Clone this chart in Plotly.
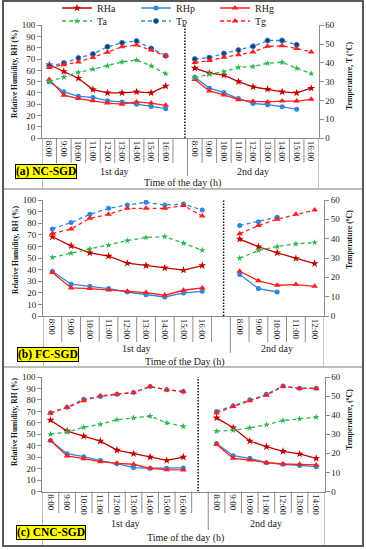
import plotly.graph_objects as go

# ---------------- data ----------------
# Panel (a) NC-SGD
a_day1_hours = ["8:00", "9:00", "10:00", "11:00", "12:00", "13:00", "14:00", "15:00", "16:00"]
a_day2_hours = ["8:00", "9:00", "10:00", "11:00", "12:00", "13:00", "14:00", "15:00", "16:00"]
a_RHa_1 = [65, 59, 53, 43, 40, 40, 41, 40, 46]
a_RHp_1 = [50, 41, 37, 36, 33, 32, 30, 28, 26]
a_RHg_1 = [52, 38, 35, 33, 31, 30, 32, 31, 29]
a_Ta_1 = [30.0, 32.4, 35.0, 36.6, 38.4, 40.5, 41.5, 38.4, 34.2]
a_Tp_1 = [38.4, 39.9, 42.6, 44.7, 48.6, 50.7, 51.6, 47.7, 43.8]
a_Tg_1 = [37.5, 39.0, 40.5, 42.9, 45.6, 48.6, 49.5, 46.8, 43.8]
a_RHa_2 = [62, 57.6, 55.8, 50, 45.4, 43.3, 41, 40, 44.2]
a_RHp_2 = [54, 44.2, 40.3, 35, 30.7, 29.6, 27.8, 25.4]
a_RHg_2 = [52, 41.8, 38.2, 34, 32.5, 32, 32.8, 32.8, 34.3]
a_Ta_2 = [32.1, 34.0, 35.3, 37.6, 38.0, 39.8, 40.3, 37.1, 34.2]
a_Tp_2 = [42.0, 42.8, 45.0, 46.8, 48.8, 51.9, 51.9, 49.6]
a_Tg_2 = [40.2, 41.2, 43.0, 44.3, 45.8, 48.8, 49.1, 47.7, 45.8]

# Panel (b) FC-SGD
b_day1_hours = ["8:00", "9:00", "10:00", "11:00", "12:00", "13:00", "14:00", "15:00", "16:00"]
b_day2_hours = ["8:00", "9:00", "10:00", "11:00", "12:00"]
b_RHa_1 = [68.3, 60.5, 54.5, 51.6, 45.5, 43.5, 41.5, 39.5, 43.5]
b_RHp_1 = [38.6, 27.4, 25.6, 23.6, 20.7, 18.4, 16.4, 19.9, 21.3]
b_RHg_1 = [37.5, 24.2, 23.6, 22.5, 21.3, 20.2, 17.9, 22.2, 24.2]
b_Ta_1 = [30.3, 32.5, 34.7, 36.6, 39.0, 40.6, 41.1, 37.7, 34.0]
b_Tp_1 = [45.0, 48.3, 52.6, 55.7, 57.4, 58.8, 57.4, 57.9, 54.8]
b_Tg_1 = [42.7, 45.0, 50.5, 52.6, 55.7, 55.7, 55.7, 57.1, 51.7]
b_RHa_2 = [66.3, 59.7, 54.5, 49.6, 45.2]
b_RHp_2 = [35.7, 23.6, 20.7]
b_RHg_2 = [38.6, 30.3, 26.5, 27.1, 25.6]
b_Ta_2 = [29.9, 33.9, 35.9, 37.3, 38.0]
b_Tp_2 = [46.8, 48.8, 51.1]
b_Tg_2 = [42.6, 46.8, 50.0, 52.6, 54.8]

# Panel (c) CNC-SGD
c_day1_hours = ["8:00", "9:00", "10:00", "11:00", "12:00", "13:00", "14:00", "15:00", "16:00"]
c_day2_hours = ["8:00", "9:00", "10:00", "11:00", "12:00", "13:00", "14:00"]
c_RHa_1 = [62.3, 52.8, 48.4, 44, 36.2, 33, 30.1, 27.2, 30.1]
c_RHp_1 = [44.6, 33, 30.4, 27, 24.3, 20.9, 20.3, 20.3, 20.6]
c_RHg_1 = [44.6, 31, 28.7, 26, 24.6, 23.8, 20.3, 19.1, 18.8]
c_Ta_1 = [30.0, 31.2, 33.6, 35.2, 37.6, 38.6, 39.5, 36.0, 34.1]
c_Tp_1 = [41.2, 44.1, 48.4, 49.8, 51.0, 51.9, 55.0, 53.3, 52.4]
c_Tg_1 = [41.2, 44.1, 47.6, 50.2, 51.0, 51.9, 55.0, 53.3, 52.4]
c_RHa_2 = [64.3, 55.7, 44.1, 39.1, 35.1, 32.8, 29]
c_RHp_2 = [42, 31.3, 29, 25.2, 23.8, 22.6, 21.7]
c_RHg_2 = [41.2, 29, 27.5, 25.2, 24, 23.8, 23.2]
c_Ta_2 = [31.6, 32.1, 33.3, 35.0, 37.2, 38.1, 39.0]
c_Tp_2 = [41.9, 45.0, 48.1, 50.9, 55.3, 54.1, 54.1]
c_Tg_2 = [41.2, 44.5, 47.6, 50.5, 55.0, 54.0, 54.0]

series_names = ["RHa", "RHp", "RHg", "Ta", "Tp", "Tg"]
panel_labels = ["(a) NC-SGD", "(b) FC-SGD", "(c) CNC-SGD"]
left_titles = ["Relative Humidity, RH (%)"] * 3
right_titles = ["Temperature, T (°C)", "Temperature (<sup>o</sup>C)", "Temperature, (<sup>o</sup>C)"]
x_titles = ["Time of the day (h)", "Time of the Day (h)", "Time of the day (h)"]
day_labels = ["1st day", "2nd day"]

# ---------------- styling / layout ----------------
W, H = 366, 550
FONT = "Liberation Serif"
AX = "#8C8C8C"
DASH = "4px,3px"


def px(v):
    return v / W


def py(v):
    return 1 - v / H


styles = {
    "RHa": dict(color="#C00000", dash="solid", symbol="star", size=6, t=False),
    "RHp": dict(color="#2E86DE", dash="solid", symbol="circle", size=5, t=False),
    "RHg": dict(color="#FF1F1F", dash="solid", symbol="triangle-up", size=6, t=False),
    "Ta": dict(color="#2DB84D", dash=DASH, symbol="star", size=5, t=True),
    "Tp": dict(color="#2E86DE", dash=DASH, symbol="circle", size=5, t=True),
    "Tg": dict(color="#FF1F1F", dash=DASH, symbol="triangle-up", size=6, t=True),
}

panels = [
    dict(d1=a_day1_hours, d2=a_day2_hours,
         s1=[a_RHa_1, a_RHp_1, a_RHg_1, a_Ta_1, a_Tp_1, a_Tg_1],
         s2=[a_RHa_2, a_RHp_2, a_RHg_2, a_Ta_2, a_Tp_2, a_Tg_2],
         xd=(42, 318.5), yb=138, yt=25.3, sep_end=163, grp_end=176, bottom=189,
         day_y=171, xt_y=183, lab_y=171, lab_x=45.5, ltitle_y=74, rtitle_y=76, dot=9.32),
    dict(d1=b_day1_hours, d2=b_day2_hours,
         s1=[b_RHa_1, b_RHp_1, b_RHg_1, b_Ta_1, b_Tp_1, b_Tg_1],
         s2=[b_RHa_2, b_RHp_2, b_RHg_2, b_Ta_2, b_Tp_2, b_Tg_2],
         xd=(43, 324), yb=316, yt=200, sep_end=342, grp_end=353, bottom=367,
         day_y=348, xt_y=362, lab_y=354.5, lab_x=48, ltitle_y=250, rtitle_y=240, dot=9.14),
    dict(d1=c_day1_hours, d2=c_day2_hours,
         s1=[c_RHa_1, c_RHp_1, c_RHg_1, c_Ta_1, c_Tp_1, c_Tg_1],
         s2=[c_RHa_2, c_RHp_2, c_RHg_2, c_Ta_2, c_Tp_2, c_Tg_2],
         xd=(42.2, 324.5), yb=491.5, yt=377, sep_end=513, grp_end=530, bottom=545,
         day_y=523, xt_y=538, lab_y=532.5, lab_x=51.5, ltitle_y=422, rtitle_y=420, dot=8.89),
]

fig = go.Figure()
layout = dict(width=W, height=H, autosize=False,
              margin=dict(l=0, r=0, t=0, b=0, autoexpand=False),
              paper_bgcolor="white", plot_bgcolor="white", showlegend=True)
shapes = []
annotations = []

tickfont = dict(family=FONT, size=9, color="#1A1A1A")

for i, p in enumerate(panels):
    xref = "x" if i == 0 else f"x{i + 1}"
    xname = "xaxis" if i == 0 else f"xaxis{i + 1}"
    yi_rh, yi_t = 2 * i + 1, 2 * i + 2
    yref_rh = "y" if yi_rh == 1 else f"y{yi_rh}"
    yname_rh = "yaxis" if yi_rh == 1 else f"yaxis{yi_rh}"
    yref_t = f"y{yi_t}"
    yname_t = f"yaxis{yi_t}"

    n1, n2 = len(p["d1"]), len(p["d2"])
    pos1 = list(range(n1))
    pos2 = [n1 + 1 + k for k in range(n2)]
    n = n1 + 1 + n2

    for j, name in enumerate(series_names):
        st = styles[name]
        v1, v2 = p["s1"][j], p["s2"][j]
        xs = pos1[:len(v1)] + [None] + pos2[:len(v2)]
        ys = list(v1) + [None] + list(v2)
        marker = dict(symbol=st["symbol"], size=st["size"], color=st["color"], line=dict(width=0))
        if name == "Tp" and i == 0:
            marker = dict(symbol="circle", size=5, color="#1B3A6B", line=dict(width=1, color="#2E86DE"))
        fig.add_trace(go.Scatter(
            x=xs, y=ys, mode="lines+markers", name=name,
            line=dict(color=st["color"], width=1.3, dash=st["dash"]),
            marker=marker, connectgaps=False,
            xaxis=xref, yaxis=(yref_t if st["t"] else yref_rh),
            showlegend=(i == 0), legend=("legend2" if st["t"] else "legend"),
            hoverinfo="skip"))

    layout[xname] = dict(domain=[px(p["xd"][0]), px(p["xd"][1])], anchor=yref_rh,
                         range=[-0.5, n - 0.5], tickmode="array",
                         tickvals=pos1 + pos2, ticktext=p["d1"] + p["d2"],
                         tickangle=90, ticks="", showline=True, linecolor=AX, linewidth=1,
                         showgrid=False, zeroline=False, tickfont=tickfont, fixedrange=True)
    layout[yname_rh] = dict(domain=[py(p["yb"]), py(p["yt"])], anchor=xref, range=[0, 100],
                            tick0=0, dtick=10, ticks="outside", ticklen=4, tickcolor=AX,
                            showline=True, linecolor=AX, linewidth=1, showgrid=False,
                            zeroline=False, tickfont=tickfont, fixedrange=True)
    layout[yname_t] = dict(overlaying=yref_rh, anchor=xref, side="right", range=[0, 60],
                           tick0=0, dtick=10, ticks="outside", ticklen=4, tickcolor=AX,
                           showline=True, linecolor=AX, linewidth=1, showgrid=False,
                           zeroline=False, tickfont=tickfont, fixedrange=True)

    # category separators below the axis
    for k in range(n + 1):
        xb = k - 0.5
        if k == 0 or k == n:
            yend = p["bottom"]
        elif k == n1 + 1:
            yend = p["grp_end"]
        else:
            yend = p["sep_end"]
        shapes.append(dict(type="line", xref=xref, yref="paper", x0=xb, x1=xb,
                           y0=py(p["yb"]), y1=py(yend), line=dict(color=AX, width=1)))
    # dotted day divider inside the plot
    shapes.append(dict(type="line", xref=xref, yref=yref_rh, x0=p["dot"], x1=p["dot"],
                       y0=0, y1=100, line=dict(color="#111111", width=1.5, dash="1.5px,1.5px")))

    # day labels
    centers = [(-0.5 + n1 + 0.5) / 2, (n1 + 0.5 + n - 0.5) / 2]
    for lab, cx in zip(day_labels, centers):
        annotations.append(dict(text=lab, xref=xref, yref="paper", x=cx, y=py(p["day_y"]),
                                showarrow=False, xanchor="center", yanchor="middle",
                                font=dict(family=FONT, size=10, color="#1A1A1A")))
    # x title
    annotations.append(dict(text=x_titles[i], xref="paper", yref="paper",
                            x=px((p["xd"][0] + p["xd"][1]) / 2 + 2), y=py(p["xt_y"]),
                            showarrow=False, xanchor="center", yanchor="middle",
                            font=dict(family=FONT, size=10, color="#1A1A1A")))
    # axis titles
    annotations.append(dict(text=left_titles[i], xref="paper", yref="paper", x=px(15),
                            y=py(p["ltitle_y"]), textangle=-90, showarrow=False,
                            xanchor="center", yanchor="middle",
                            font=dict(family=FONT, size=7.5, color="#1A1A1A", weight="bold")))
    annotations.append(dict(text=right_titles[i], xref="paper", yref="paper", x=px(349),
                            y=py(p["rtitle_y"]), textangle=-90, showarrow=False,
                            xanchor="center", yanchor="middle",
                            font=dict(family=FONT, size=7.8, color="#1A1A1A", weight="bold")))
    # panel label box
    annotations.append(dict(text="<b>" + panel_labels[i] + "</b>", xref="paper", yref="paper",
                            x=px(p["lab_x"]), y=py(p["lab_y"]), showarrow=False,
                            xanchor="center", yanchor="middle", bgcolor="#FFFF00",
                            bordercolor="#000000", borderwidth=1, borderpad=0,
                            font=dict(family=FONT, size=11.5, color="#000000")))

# panel separators and outer border
for yy in [189, 367]:
    shapes.append(dict(type="line", xref="paper", yref="paper", x0=px(3), x1=px(363),
                       y0=py(yy), y1=py(yy), line=dict(color="#A6A6A6", width=1.5)))
shapes.append(dict(type="rect", xref="paper", yref="paper", x0=px(3), x1=px(363),
                   y0=py(546), y1=py(1), line=dict(color="#595959", width=2)))

legend_common = dict(orientation="h", xanchor="left", yanchor="middle",
                     entrywidth=34, entrywidthmode="pixels", itemwidth=30,
                     font=dict(family=FONT, size=10, color="#1A1A1A"),
                     bgcolor="rgba(0,0,0,0)", borderwidth=0)
layout["legend"] = dict(legend_common, x=px(57), y=py(8))
layout["legend2"] = dict(legend_common, x=px(57), y=py(21))
layout["shapes"] = shapes
layout["annotations"] = annotations

fig.update_layout(**layout)
fig.write_html("out.html", config={"displayModeBar": False},
               post_script="document.body.style.margin='0px';document.body.style.padding='0px';")
